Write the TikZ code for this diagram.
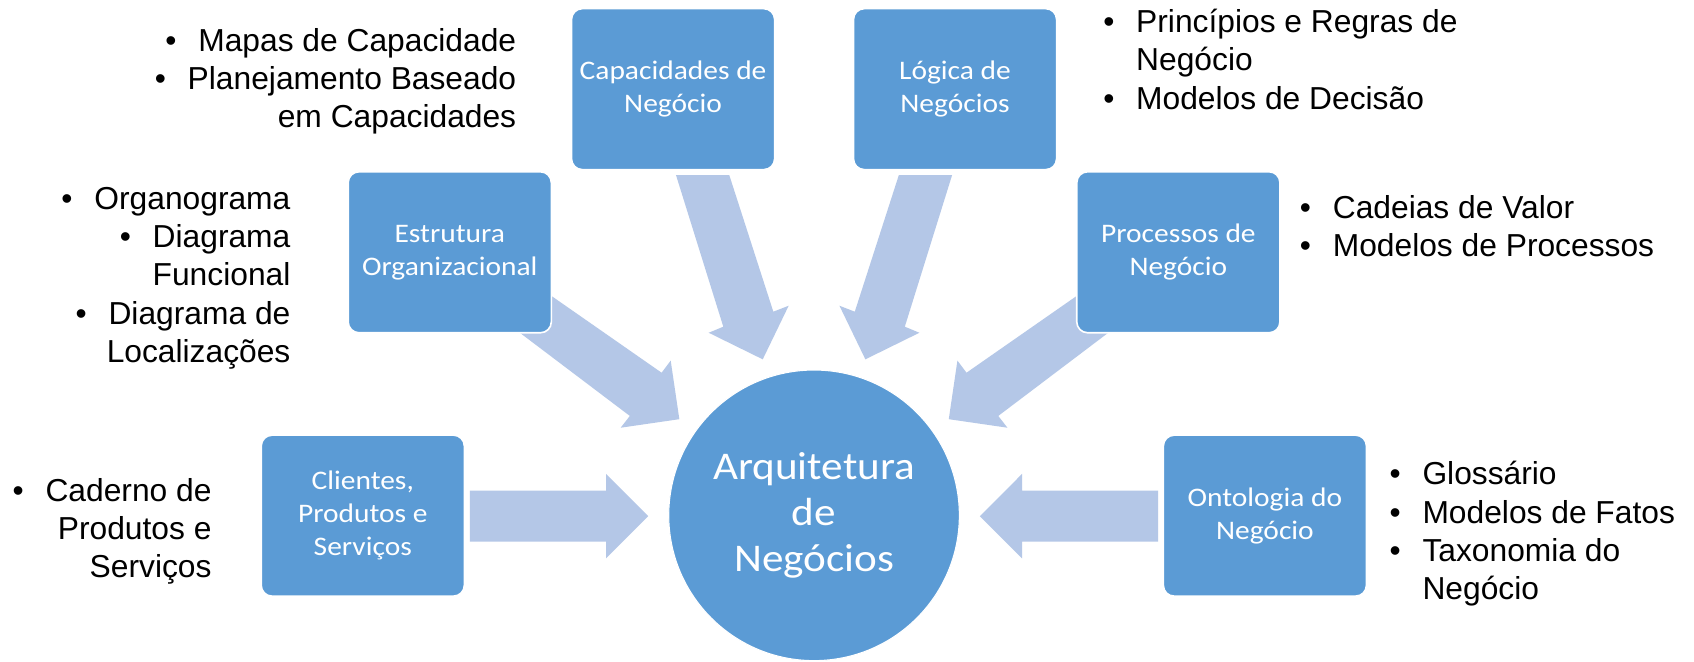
\documentclass[tikz,border=0pt]{standalone}
\usepackage{fontspec}
\setmainfont{Liberation Sans}
\newfontfamily\boxfont[FakeStretch=1.1]{Carlito}
\definecolor{boxblue}{HTML}{5B9BD5}
\definecolor{arrowblue}{HTML}{B4C7E7}
\newcommand{\lbul}{\makebox[30.5pt][l]{•}}
\begin{document}
\begin{tikzpicture}[x=1pt,y=-1pt,
  blockarrow/.style={fill=arrowblue},
  topic/.style={rounded corners=10pt, fill=boxblue, draw=white, line width=1.5pt,
    minimum width=188pt, minimum height=149pt, inner sep=0pt, text=white,
    align=center, font=\boxfont\fontsize{24.8}{30.5}\selectfont},
  hub/.style={circle, fill=boxblue, draw=white, line width=1pt, minimum size=269pt,
    inner sep=0pt, text=white, align=center, font=\boxfont\fontsize{36.3}{42.5}\selectfont},
  list/.style={inner sep=0pt, font=\fontsize{29.4}{35.3}\selectfont},
]
\fill[white] (0,0) rectangle (1568,612);
\useasboundingbox (0,0) rectangle (1568,612);

% block arrows
\fill[blockarrow] (625.7,162) -- (675,162) -- (715.8,288.5) -- (730,283) -- (706,332.6)
  -- (656,308) -- (669.5,302.4) -- cycle;
\fill[blockarrow] (881.3,162) -- (832,162) -- (791.2,288.5) -- (777,283) -- (801,332.6)
  -- (851,308) -- (837.5,302.4) -- cycle;
\fill[blockarrow] (489,259) -- (612.4,345) -- (620.8,333.8) -- (628.8,388)
  -- (574.5,395.9) -- (583,385) -- (462,293.5) -- cycle;
\fill[blockarrow] (1018,259) -- (894.6,345) -- (886.2,333.8) -- (878.2,388)
  -- (932.5,395.9) -- (924,385) -- (1045,293.5) -- cycle;
\fill[blockarrow] (435,454.2) -- (561,454.2) -- (561,438.7) -- (600,477.8)
  -- (561,516.8) -- (561,501.4) -- (435,501.4) -- cycle;
\fill[blockarrow] (1072,454.2) -- (946,454.2) -- (946,438.7) -- (907,477.8)
  -- (946,516.8) -- (946,501.4) -- (1072,501.4) -- cycle;

% hub
\node[hub] (arq) at (753.5,477) {Arquitetura\\de\\Negócios};

% topics
\node[topic] (cap) at (623,82.5) {Capacidades de\\Negócio};
\node[topic] (log) at (884,82.5) {Lógica de\\Negócios};
\node[topic] (est) at (416.3,233.5) {Estrutura\\Organizacional};
\node[topic] (pro) at (1090.7,233.5) {Processos de\\Negócio};
\node[topic] (cli) at (335.8,477.3) {Clientes,\\Produtos e\\Serviços};
\node[topic] (ont) at (1170.8,477.3) {Ontologia do\\Negócio};

% lists
\node[list, anchor=east, align=right] (l1) at (478,75.5)
  {\lbul Mapas de Capacidade\\\lbul Planejamento Baseado\\em Capacidades};
\node[list, anchor=east, align=right] (l2) at (269,257.5)
  {\lbul Organograma\\\lbul Diagrama\\Funcional\\\lbul Diagrama de\\Localizações};
\node[list, anchor=east, align=right] (l3) at (196,492)
  {\lbul Caderno de\\Produtos e\\Serviços};
\node[list, anchor=west, align=left] (r1) at (1021,55)
  {\lbul Princípios e Regras de\\\hspace*{30.5pt}Negócio\\\lbul Modelos de Decisão};
\node[list, anchor=west, align=left] (r2) at (1203,209)
  {\lbul Cadeias de Valor\\\lbul Modelos de Processos};
\node[list, anchor=west, align=left] (r3) at (1286,494)
  {\lbul Glossário\\\lbul Modelos de Fatos\\\lbul Taxonomia do\\\hspace*{30.5pt}Negócio};
\end{tikzpicture}
\end{document}
